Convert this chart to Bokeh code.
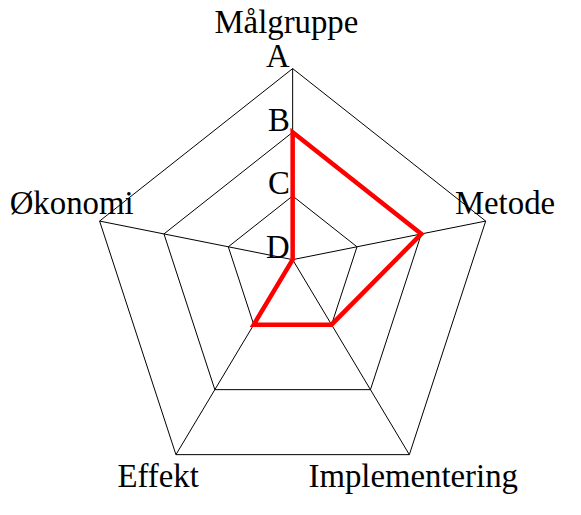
import numpy as np
from bokeh.plotting import figure
from bokeh.models import ColumnDataSource, Range1d
from bokeh.core.properties import value
from bokeh.embed import file_html
from bokeh.resources import INLINE

# ---- data ----
categories = ["Målgruppe", "Metode", "Implementering", "Effekt", "Økonomi"]
level_labels = ["D", "C", "B", "A"]          # D = centre, A = outer ring
scores = ["B", "B", "C", "C", "D"]

# ---- layout (geometry of the spider web) ----
axis_angle_deg = [90, 11.3, -59.1, -120.9, 168.7]
axis_length = [198, 204, 235.5, 235.5, 204]
label_dx = [-6.5, 20, 4, -18.5, -29]
label_dy = [36, 6, -35, -35, 6]

W, H = 565, 499
S = 0.965                      # px per data unit
TEXT_FIX = 12.0 / S            # compensate baseline placement
FONT = "Liberation Serif"
FSIZE = f"{34 * S:.1f}px"

ang = np.deg2rad(np.array(axis_angle_deg))
L = np.array(axis_length)
ux = np.cos(ang) * L
uy = np.sin(ang) * L
nmax = len(level_labels) - 1

xc, yc = -10.0, 10.0           # data point shown at canvas centre
p = figure(width=W, height=H, output_backend="svg", toolbar_location=None,
           x_range=Range1d(xc - W / S / 2, xc + W / S / 2),
           y_range=Range1d(yc - H / S / 2, yc + H / S / 2),
           min_border=0, outline_line_color=None)
p.axis.visible = False
p.grid.visible = False
p.background_fill_color = "white"
p.border_fill_color = "white"

# rings
ring_xs, ring_ys = [], []
for k in range(1, nmax + 1):
    f = k / nmax
    ring_xs.append(list(f * ux) + [f * ux[0]])
    ring_ys.append(list(f * uy) + [f * uy[0]])
p.multi_line(ring_xs, ring_ys, line_color="black", line_width=1)

# spokes
p.segment(x0=[0] * len(ux), y0=[0] * len(uy), x1=ux, y1=uy,
          line_color="black", line_width=1)

# series
fr = np.array([level_labels.index(s) / nmax for s in scores])
p.patch(list(fr * ux), list(fr * uy), fill_color=None, line_color="#ff0000",
        line_width=4.5, line_join="miter")

# category labels
src = ColumnDataSource(dict(x=ux + np.array(label_dx),
                            y=uy + np.array(label_dy) + TEXT_FIX,
                            t=categories))
p.text(x="x", y="y", text="t", source=src, text_font=value(FONT),
       text_font_size=FSIZE, text_align="center", text_baseline="alphabetic",
       text_color="black")

# level labels on top axis
lv = ColumnDataSource(dict(
    x=[-3] * len(level_labels),
    y=[k / nmax * uy[0] + 0.5 + TEXT_FIX for k in range(len(level_labels))],
    t=level_labels))
p.text(x="x", y="y", text="t", source=lv, text_font=value(FONT),
       text_font_size=FSIZE, text_align="right", text_baseline="alphabetic",
       text_color="black")

open("out.html", "w").write(file_html(p, INLINE))
